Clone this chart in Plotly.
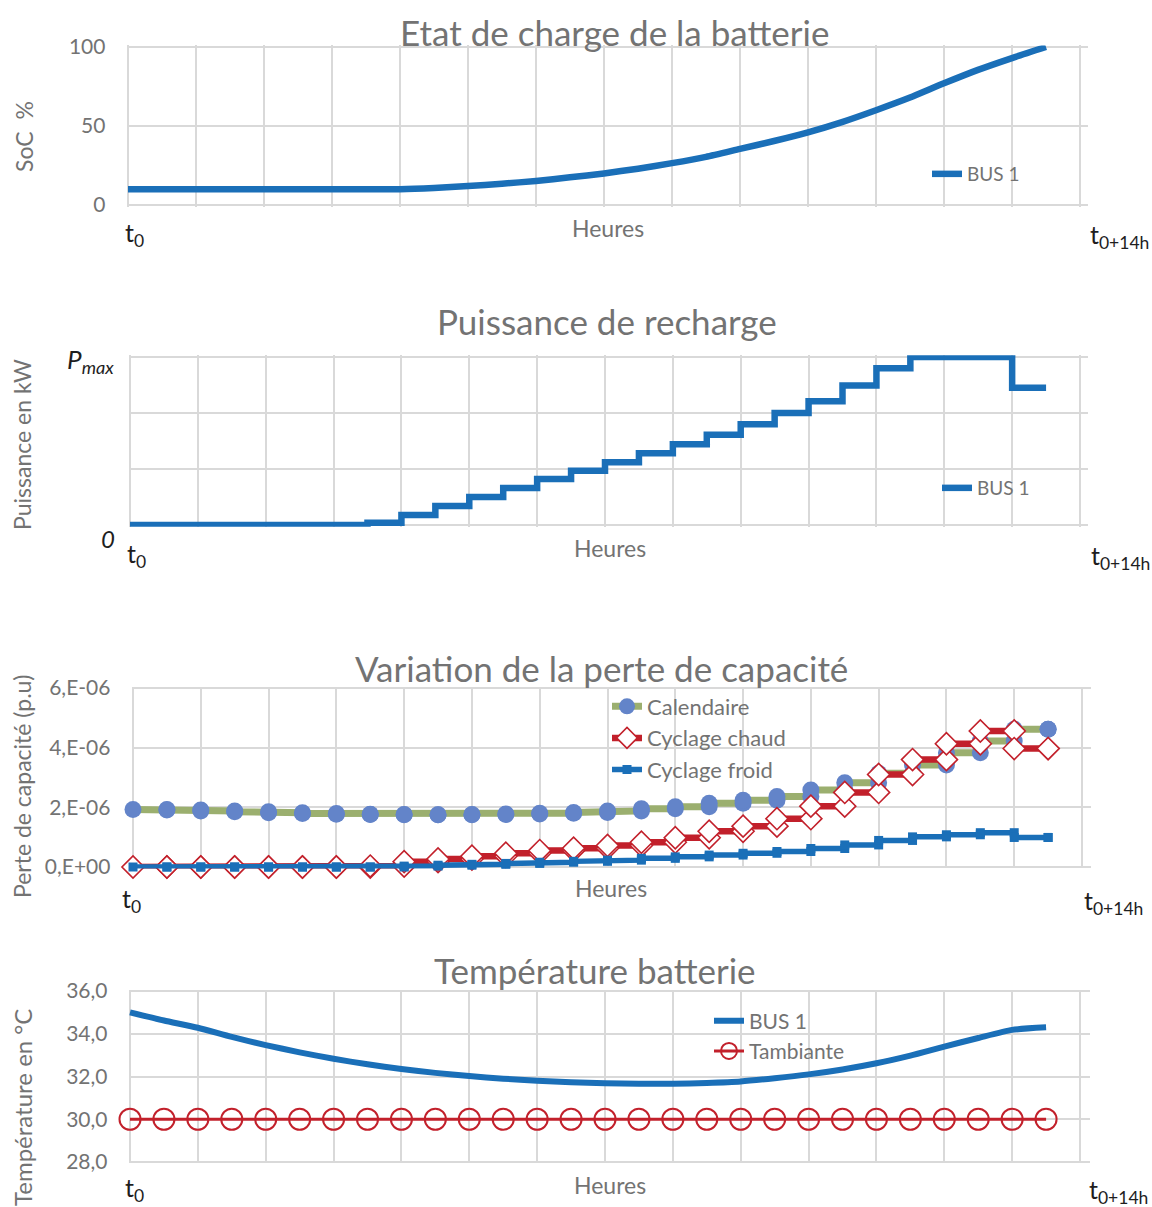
import plotly.graph_objects as go

# ---------------- data ----------------
hours = [0.0, 0.5, 1.0, 1.5, 2.0, 2.5, 3.0, 3.5, 4.0, 4.5, 5.0, 5.5, 6.0, 6.5,
         7.0, 7.5, 8.0, 8.5, 9.0, 9.5, 10.0, 10.5, 11.0, 11.5, 12.0, 12.5, 13.0, 13.5]

soc_bus1 = [10, 10, 10, 10, 10, 10, 10, 10, 10, 10.8, 12, 13.5, 15.2, 17.5,
            20, 23, 26.5, 30.5, 35.5, 40.5, 46, 52.5, 60, 68, 77, 85.5, 93, 100]

power_bus1 = [0, 0, 0, 0, 0, 0, 0, 0.04, 0.18, 0.34, 0.50, 0.66, 0.82, 0.97,
              1.12, 1.28, 1.44, 1.61, 1.80, 2.0, 2.21, 2.49, 2.80, 3.0, 3.0, 3.0, 2.45, 2.45]

calendaire = [1.93e-6, 1.91e-6, 1.88e-6, 1.85e-6, 1.82e-6, 1.79e-6, 1.77e-6, 1.76e-6,
              1.75e-6, 1.75e-6, 1.76e-6, 1.78e-6, 1.80e-6, 1.83e-6, 1.88e-6, 1.95e-6,
              2.02e-6, 2.14e-6, 2.24e-6, 2.36e-6, 2.58e-6, 2.82e-6, 3.14e-6, 3.42e-6,
              3.83e-6, 4.22e-6, 4.62e-6, 4.62e-6]
cyclage_chaud = [0, 0, 0, 0, 0, 0, 0, 0.03e-6, 0.18e-6, 0.27e-6, 0.36e-6, 0.46e-6,
                 0.55e-6, 0.63e-6, 0.72e-6, 0.83e-6, 0.98e-6, 1.20e-6, 1.37e-6, 1.62e-6,
                 2.04e-6, 2.50e-6, 3.10e-6, 3.60e-6, 4.13e-6, 4.56e-6, 3.97e-6, 3.97e-6]
cyclage_froid = [0, 0, 0, 0, 0, 0, 0, 0, 0.03e-6, 0.06e-6, 0.09e-6, 0.12e-6,
                 0.16e-6, 0.19e-6, 0.23e-6, 0.29e-6, 0.34e-6, 0.40e-6, 0.46e-6, 0.52e-6,
                 0.62e-6, 0.74e-6, 0.89e-6, 1.01e-6, 1.08e-6, 1.15e-6, 0.99e-6, 0.99e-6]

temp_bus1 = [35.0, 34.62, 34.28, 33.85, 33.47, 33.13, 32.83, 32.57, 32.35, 32.17,
             32.02, 31.9, 31.8, 31.73, 31.68, 31.66, 31.66, 31.7, 31.77, 31.92,
             32.1, 32.33, 32.62, 32.98, 33.4, 33.8, 34.18, 34.3]
temp_ambiante = [30.0, 30.0, 30.0, 30.0, 30.0, 30.0, 30.0, 30.0, 30.0, 30.0,
                 30.0, 30.0, 30.0, 30.0, 30.0, 30.0, 30.0, 30.0, 30.0, 30.0,
                 30.0, 30.0, 30.0, 30.0, 30.0, 30.0, 30.0, 30.0]

soc_ticks = [0, 50, 100]
perte_ticks = [0, 2e-6, 4e-6, 6e-6]
perte_ticktext = ["0,E+00", "2,E-06", "4,E-06", "6,E-06"]
temp_ticks = [28, 30, 32, 34, 36]
temp_ticktext = ["28,0", "30,0", "32,0", "34,0", "36,0"]

# ---------------- style ----------------
W, H = 1152, 1207
FONT = "Lato"
BLUE = "#1A6FB8"
RED = "#C2202B"
GREEN = "#9BAF6F"
CIRC = "#6384C9"
GRID = "#D9D9D9"
GREY = "#737373"
DARK = "#1E1E1E"


def fx(p):
    return p / W


def fy(p):
    return 1 - p / H


def dom(a, pa, b, pb, r0, r1, vertical):
    s = (pb - pa) / (b - a)
    p0 = pa + (r0 - a) * s
    p1 = pa + (r1 - a) * s
    if vertical:
        return sorted([fy(p0), fy(p1)])
    return sorted([fx(p0), fx(p1)])


def step(xs, ys):
    ox, oy = [], []
    for i, (x, y) in enumerate(zip(xs, ys)):
        if i > 0:
            ox.append(x)
            oy.append(ys[i - 1])
        ox.append(x)
        oy.append(y)
    return ox, oy


fig = go.Figure()

# Panel 1: SoC
fig.add_trace(go.Scatter(x=hours, y=soc_bus1, mode="lines", name="BUS 1",
                         line=dict(color=BLUE, width=6.5, shape="spline", smoothing=0.6),
                         xaxis="x", yaxis="y", legend="legend", cliponaxis=False))
# Panel 2: power
fig.add_trace(go.Scatter(x=hours, y=power_bus1, mode="lines", name="BUS 1",
                         line=dict(color=BLUE, width=6.5, shape="hv"),
                         xaxis="x2", yaxis="y2", legend="legend2", cliponaxis=False))
# Panel 3: capacity loss
cx, cy = step(hours, calendaire)
hx, hy = step(hours, cyclage_chaud)
kx, ky = step(hours, cyclage_froid)
fig.add_trace(go.Scatter(x=cx, y=cy, mode="lines+markers", name="Calendaire",
                         line=dict(color=GREEN, width=7),
                         marker=dict(color=CIRC, size=17, symbol="circle"),
                         xaxis="x3", yaxis="y3", legend="legend3", cliponaxis=False))
fig.add_trace(go.Scatter(x=hx, y=hy, mode="lines+markers", name="Cyclage chaud",
                         line=dict(color=RED, width=6.5),
                         marker=dict(color="white", size=17, symbol="diamond",
                                     line=dict(color=RED, width=1.6)),
                         xaxis="x3", yaxis="y3", legend="legend3", cliponaxis=False))
fig.add_trace(go.Scatter(x=kx, y=ky, mode="lines+markers", name="Cyclage froid",
                         line=dict(color=BLUE, width=5.5),
                         marker=dict(color=BLUE, size=9, symbol="square"),
                         xaxis="x3", yaxis="y3", legend="legend3", cliponaxis=False))
# Panel 4: temperature
fig.add_trace(go.Scatter(x=hours, y=temp_bus1, mode="lines", name="BUS 1",
                         line=dict(color=BLUE, width=6, shape="spline", smoothing=0.6),
                         xaxis="x4", yaxis="y4", legend="legend4", cliponaxis=False))
fig.add_trace(go.Scatter(x=hours, y=temp_ambiante, mode="lines+markers", name="Tambiante",
                         line=dict(color=RED, width=3),
                         marker=dict(color=RED, size=21, symbol="circle-open",
                                     line=dict(width=2)),
                         xaxis="x4", yaxis="y4", legend="legend4", cliponaxis=False))

xcommon = dict(showgrid=True, gridcolor=GRID, gridwidth=2, dtick=1, tick0=0,
               showticklabels=False, zeroline=False, showline=False, ticks="",
               fixedrange=True, automargin=False)
ycommon = dict(showgrid=True, gridcolor=GRID, gridwidth=2, zeroline=False,
               showline=False, ticks="outside", ticklen=16,
               tickcolor="rgba(0,0,0,0)", tickfont=dict(family=FONT, size=21, color=GREY),
               fixedrange=True, automargin=False)

fig.update_layout(
    width=W, height=H,
    margin=dict(l=0, r=0, t=0, b=0, autoexpand=False),
    plot_bgcolor="white", paper_bgcolor="white",
    font=dict(family=FONT, color=GREY),
    xaxis=dict(xcommon, range=[-0.02, 14.12], domain=dom(0, 128, 14, 1080, -0.02, 14.12, False),
               anchor="y"),
    yaxis=dict(ycommon, range=[-1, 101], domain=dom(0, 205, 100, 47, -1, 101, True),
               tickvals=soc_ticks, anchor="x"),
    xaxis2=dict(xcommon, range=[-0.02, 14.12], domain=dom(0, 130, 14, 1080, -0.02, 14.12, False),
                anchor="y2"),
    yaxis2=dict(ycommon, range=[-0.03, 3.03], domain=dom(0, 525, 3, 357, -0.03, 3.03, True),
                tickvals=[0, 1, 2, 3], showticklabels=False, anchor="x2"),
    xaxis3=dict(xcommon, range=[-0.02, 14.14], domain=dom(0, 133, 14, 1082, -0.02, 14.14, False),
                anchor="y3"),
    yaxis3=dict(ycommon, range=[-0.05e-6, 6.05e-6],
                domain=dom(0, 867, 6e-6, 688, -0.05e-6, 6.05e-6, True),
                tickvals=perte_ticks, ticktext=perte_ticktext, anchor="x3"),
    xaxis4=dict(xcommon, range=[-0.02, 14.15], domain=dom(0, 130, 14, 1080, -0.02, 14.15, False),
                anchor="y4"),
    yaxis4=dict(ycommon, range=[27.95, 36.05], domain=dom(28, 1162, 36, 991, 27.95, 36.05, True),
                tickvals=temp_ticks, ticktext=temp_ticktext, anchor="x4"),
    showlegend=True,
)

leg = dict(bgcolor="rgba(0,0,0,0)", borderwidth=0, font=dict(family=FONT, size=19, color=GREY),
           xanchor="left", yanchor="middle", itemwidth=30, tracegroupgap=0)
fig.update_layout(
    legend=dict(leg, x=fx(927), y=fy(174)),
    legend2=dict(leg, x=fx(937), y=fy(488)),
    legend3=dict(leg, x=fx(607), y=fy(738), font=dict(family=FONT, size=22, color=GREY)),
    legend4=dict(leg, x=fx(709), y=fy(1036), font=dict(family=FONT, size=21, color=GREY)),
)

annots = []


def text(x, y, s, size, color, **kw):
    annots.append(dict(x=fx(x), y=fy(y), xref="paper", yref="paper", text=s, showarrow=False,
                       xanchor="center", yanchor="middle",
                       font=dict(family=FONT, size=size, color=color), **kw))


# titles
text(614, 32, "Etat de charge de la batterie", 35, GREY)
text(607, 321, "Puissance de recharge", 35, GREY)
text(601, 668, "Variation de la perte de capacité", 35, GREY)
text(595, 970, "Température batterie", 35, GREY)
# y titles
text(24, 137, "SoC\u00a0\u00a0%", 23, GREY, textangle=-90)
text(22, 445, "Puissance en kW", 23, GREY, textangle=-90)
text(22, 787, "Perte de capacité (p.u)", 23, GREY, textangle=-90)
text(22, 1108, "Température en °C", 24, GREY, textangle=-90)
# power tick labels
text(90, 360, "<i>P<sub>max</sub></i>", 26, DARK)
text(108, 538, "<i>0</i>", 24, DARK)
# x labels
for (yl, yh, xt0, xt1, xh) in [(234, 228, 134, 1119, 608), (555, 548, 136, 1120, 610),
                               (900, 888, 131, 1113, 611), (1189, 1185, 134, 1118, 610)]:
    text(xt0, yl, "t<sub>0</sub>", 25, DARK)
    text(xt1, yl + 2, "t<sub>0+14h</sub>", 25, DARK)
    text(xh, yh, "Heures", 23, GREY)

fig.update_layout(annotations=annots)
fig.write_html("out.html", config={"displayModeBar": False},
               post_script="document.body.style.margin='0';")
